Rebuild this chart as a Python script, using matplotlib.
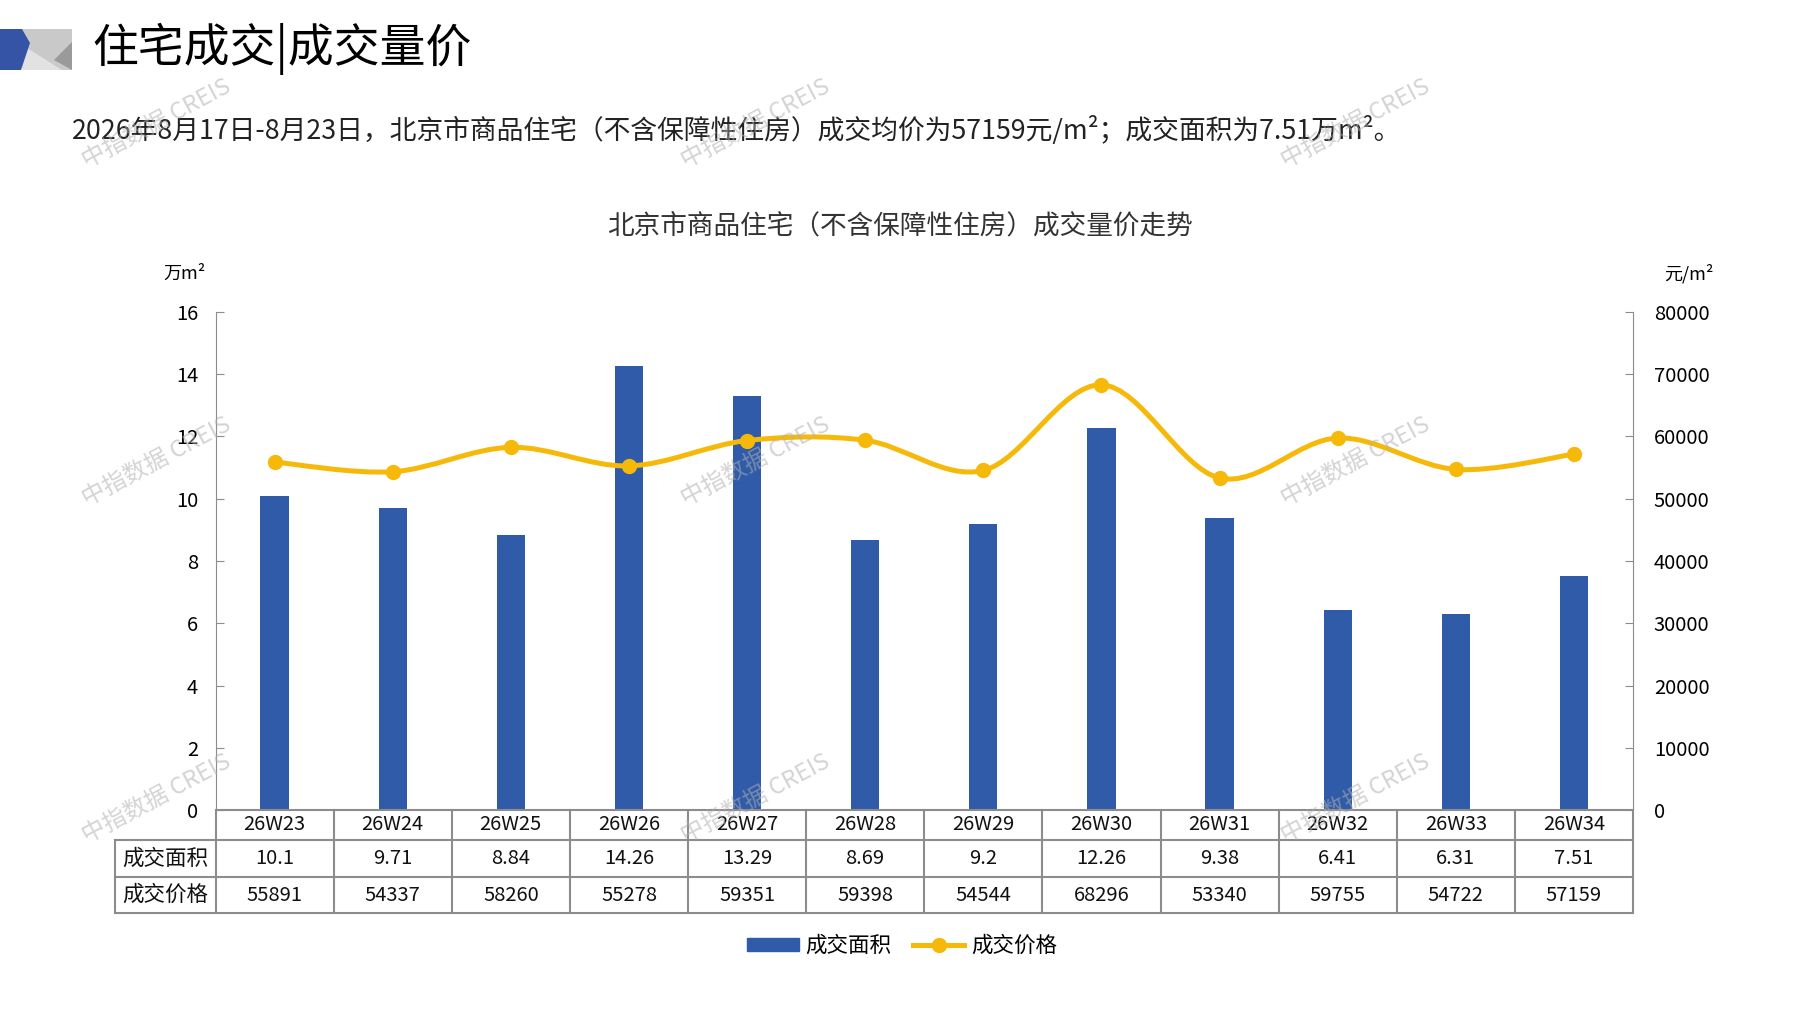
import matplotlib.pyplot as plt
import numpy as np
from matplotlib.lines import Line2D
from matplotlib.patches import PathPatch, Polygon, Rectangle
from matplotlib.path import Path
from matplotlib.transforms import blended_transform_factory

plt.rcParams["font.family"] = ["Noto Sans CJK SC", "DejaVu Sans"]

weeks = ["26W23", "26W24", "26W25", "26W26", "26W27", "26W28",
         "26W29", "26W30", "26W31", "26W32", "26W33", "26W34"]
area = [10.1, 9.71, 8.84, 14.26, 13.29, 8.69, 9.2, 12.26, 9.38, 6.41, 6.31, 7.51]
area_text = ["10.1", "9.71", "8.84", "14.26", "13.29", "8.69",
             "9.2", "12.26", "9.38", "6.41", "6.31", "7.51"]
price = [55891, 54337, 58260, 55278, 59351, 59398, 54544, 68296, 53340, 59755, 54722, 57159]
row_labels = ["成交面积", "成交价格"]

BLUE = "#2F5BA8"
GOLD = "#F6B90A"
GRID = "#8C8C8C"

W, H = 1797, 1010
fig = plt.figure(figsize=(W / 100, H / 100), dpi=100)

# pixel overlay for header decoration
bg = fig.add_axes([0, 0, 1, 1], zorder=-1)
bg.set_xlim(0, W)
bg.set_ylim(H, 0)
bg.axis("off")
bg.add_patch(Rectangle((22, 29), 50, 41, color="#C9C9C9", lw=0))
bg.add_patch(Polygon([(24, 46), (62, 70), (22, 70)], color="#E2E2E2", lw=0))
bg.add_patch(Polygon([(72, 42), (54, 60), (72, 70)], color="#9A9A9A", lw=0))
bg.add_patch(Polygon([(0, 29), (22, 29), (30, 43), (21, 70), (0, 70)], color="#3554A5", lw=0))

fig.text(92 / W, 1 - 49 / H, "住宅成交|成交量价", fontsize=33, va="center", ha="left")
fig.text(72 / W, 1 - 131 / H,
         "2026年8月17日-8月23日，北京市商品住宅（不含保障性住房）成交均价为57159元/m²；成交面积为7.51万m²。",
         fontsize=19.3, va="center", ha="left", color="#222222")
fig.text(900 / W, 1 - 226 / H, "北京市商品住宅（不含保障性住房）成交量价走势",
         fontsize=19.2, va="center", ha="center", color="#333333")
fig.text(185 / W, 1 - 274 / H, "万m²", fontsize=13, ha="center", va="center")
fig.text(1689 / W, 1 - 274 / H, "元/m²", fontsize=13, ha="center", va="center")

ax = fig.add_axes([215.5 / W, 1 - 810 / H, (1633 - 215.5) / W, 498 / H])
ax2 = ax.twinx()

x = np.arange(len(weeks))
ax.bar(x, area, width=0.24, color=BLUE, zorder=2)
ax.set_xlim(-0.5, len(weeks) - 0.5)
ax.set_ylim(0, 16)
ax.set_yticks(range(0, 17, 2))
ax2.set_ylim(0, 80000)
ax2.set_yticks(range(0, 80001, 10000))

for a in (ax, ax2):
    for s in a.spines.values():
        s.set_visible(False)
    a.tick_params(axis="y", direction="in", length=6, color=GRID, labelsize=14.5)
ax.spines["left"].set_visible(True)
ax.spines["left"].set_color(GRID)
ax.spines["bottom"].set_visible(True)
ax.spines["bottom"].set_color(GRID)
ax.spines["bottom"].set_linewidth(1.5)
ax2.spines["right"].set_visible(True)
ax2.spines["right"].set_color(GRID)
ax.tick_params(axis="y", pad=12.5)
ax2.tick_params(axis="y", pad=15)
ax.set_xticks([])

# smoothed price line (Catmull-Rom style bezier, like Excel smoothing)
pts = np.column_stack([x, price]).astype(float)
ext = np.vstack([pts[0], pts, pts[-1]])
verts = [tuple(pts[0])]
codes = [Path.MOVETO]
for i in range(len(pts) - 1):
    p0, p1, p2, p3 = ext[i], ext[i + 1], ext[i + 2], ext[i + 3]
    c1 = p1 + (p2 - p0) / 6
    c2 = p2 - (p3 - p1) / 6
    verts += [tuple(c1), tuple(c2), tuple(p2)]
    codes += [Path.CURVE4] * 3
ax2.add_patch(PathPatch(Path(verts, codes), fill=False, edgecolor=GOLD, lw=3.6,
                        capstyle="round", joinstyle="round", zorder=3))
ax2.plot(x, price, "o", color=GOLD, markersize=10, zorder=4)

# data table under the axis
tr = blended_transform_factory(ax.transData, ax.transAxes)
rows_y = [0, -0.060, -0.1345, -0.207]
left = -1.354
right = len(weeks) - 0.5
lkw = dict(color=GRID, lw=1.5, transform=tr, clip_on=False)
ax.plot([left, right], [rows_y[1]] * 2, **lkw)
ax.plot([left, right], [rows_y[2]] * 2, **lkw)
ax.plot([left, right], [rows_y[3]] * 2, **lkw)
ax.plot([left, left], [rows_y[1], rows_y[3]], **lkw)
for i in range(len(weeks) + 1):
    ax.plot([i - 0.5, i - 0.5], [rows_y[0], rows_y[3]], **lkw)

cells = [weeks, area_text, [str(p) for p in price]]
for r, vals in enumerate(cells):
    yc = (rows_y[r] + rows_y[r + 1]) / 2
    for i, v in enumerate(vals):
        ax.text(i, yc, v, transform=tr, ha="center", va="center", fontsize=14.5,
                color="#111111", clip_on=False)
    if r > 0:
        ax.text((left - 0.5) / 2, yc, row_labels[r - 1], transform=tr, ha="center",
                va="center", fontsize=15.5, color="#111111", clip_on=False)

handles = [Rectangle((0, 0), 1, 1, color=BLUE),
           Line2D([], [], color=GOLD, lw=3.6, marker="o", markersize=10)]
fig.legend(handles, row_labels, loc="center", bbox_to_anchor=(902 / W, 1 - 946 / H),
           ncol=2, frameon=False, fontsize=15.5, handlelength=2.4, handleheight=0.55,
           columnspacing=1.0, handletextpad=0.3)

# watermarks
for wx in (157, 756, 1356):
    for wy in (124, 462, 799):
        fig.text(wx / W, 1 - wy / H, "中指数据 CREIS", fontsize=17, rotation=28,
                 ha="center", va="center", color="#B0B0B0", alpha=0.55, zorder=10)

fig.savefig("out.png", dpi=100)
